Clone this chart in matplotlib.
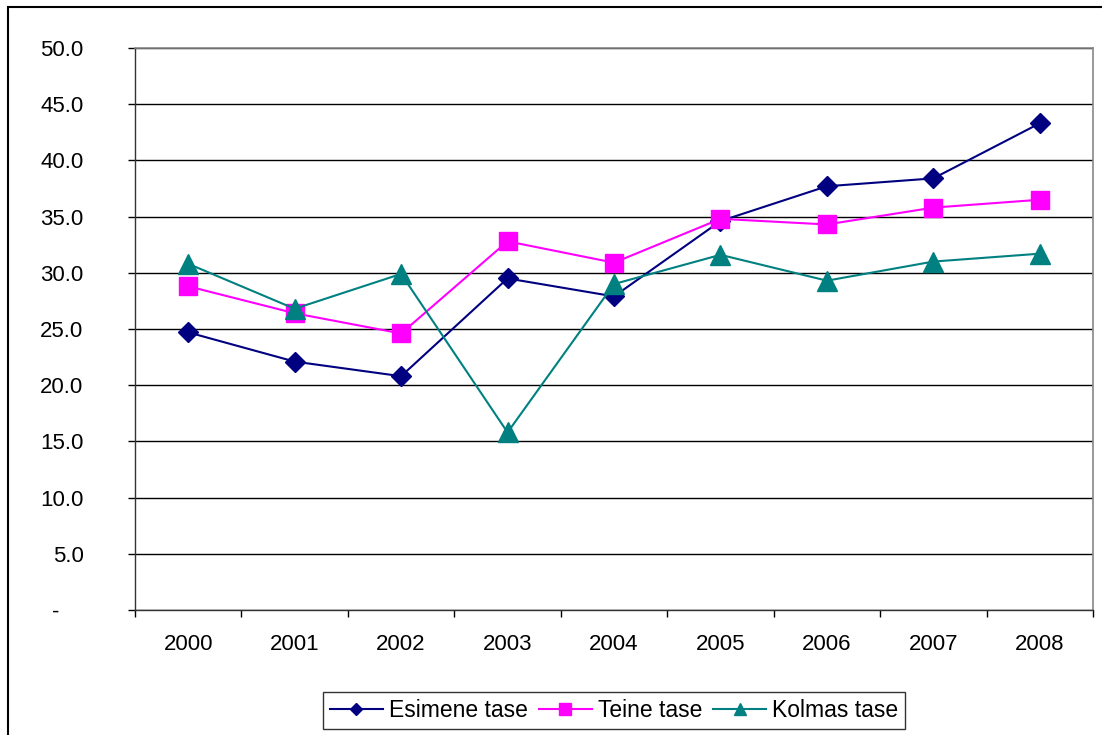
import matplotlib.pyplot as plt
from matplotlib.patches import Rectangle
from matplotlib.ticker import FixedLocator

plt.rcParams['font.family'] = ['Liberation Sans', 'DejaVu Sans']

years = ["2000", "2001", "2002", "2003", "2004", "2005", "2006", "2007", "2008"]
esimene = [24.7, 22.1, 20.8, 29.5, 27.9, 34.6, 37.7, 38.4, 43.3]
teine = [28.8, 26.4, 24.6, 32.8, 30.9, 34.8, 34.3, 35.8, 36.5]
kolmas = [30.8, 26.8, 29.9, 15.8, 29.0, 31.6, 29.3, 31.0, 31.7]
y_ticks = [0, 5, 10, 15, 20, 25, 30, 35, 40, 45, 50]
y_labels = ["-    ", "5.0", "10.0", "15.0", "20.0", "25.0", "30.0", "35.0", "40.0", "45.0", "50.0"]

fig = plt.figure(figsize=(11.02, 7.35), dpi=100)
ax = fig.add_axes([135 / 1102, 1 - 610 / 735, (1093 - 135) / 1102, (610 - 48) / 735])

x = range(len(years))
ax.plot(x, esimene, color="#000080", lw=1.5, marker="D", ms=10, label="Esimene tase")
ax.plot(x, teine, color="#FF00FF", lw=1.5, marker="s", ms=13, label="Teine tase")
ax.plot(x, kolmas, color="#008080", lw=1.5, marker="^", ms=14, label="Kolmas tase")

ax.set_xlim(-0.5, len(years) - 0.5)
ax.set_ylim(0, 50)
ax.set_yticks(y_ticks)
ax.set_yticklabels(y_labels)
ax.set_xticks(list(x))
ax.set_xticklabels(years)
ax.xaxis.set_minor_locator(FixedLocator([i - 0.5 for i in range(len(years) + 1)]))
ax.tick_params(axis="x", which="major", length=0, pad=17, labelsize=16)
ax.tick_params(axis="x", which="minor", length=5, direction="out", width=1)
ax.tick_params(axis="y", length=5, direction="out", width=1, pad=32, labelsize=16)

ax.grid(axis="y", color="black", lw=1)
ax.set_axisbelow(True)
for side in ["top", "right"]:
    ax.spines[side].set_color("#888888")
    ax.spines[side].set_linewidth(1.2)
for side in ["left", "bottom"]:
    ax.spines[side].set_color("#333333")
    ax.spines[side].set_linewidth(1)

leg = fig.legend(loc="center", bbox_to_anchor=(614 / 1102, 1 - 710.5 / 735), ncol=3,
                 fontsize=16.5, frameon=True, fancybox=False, edgecolor="black",
                 markerscale=0.65, handlelength=2.3, handletextpad=0.26,
                 columnspacing=0.5, borderpad=0.3, borderaxespad=0)
leg.get_frame().set_linewidth(1)

fig.patches.append(Rectangle((8 / 1102, -0.05), 1.0, 1 - 7 / 735 + 0.05,
                             transform=fig.transFigure, fill=False, edgecolor="black", lw=1.5))

fig.savefig("out.png", dpi=100)
